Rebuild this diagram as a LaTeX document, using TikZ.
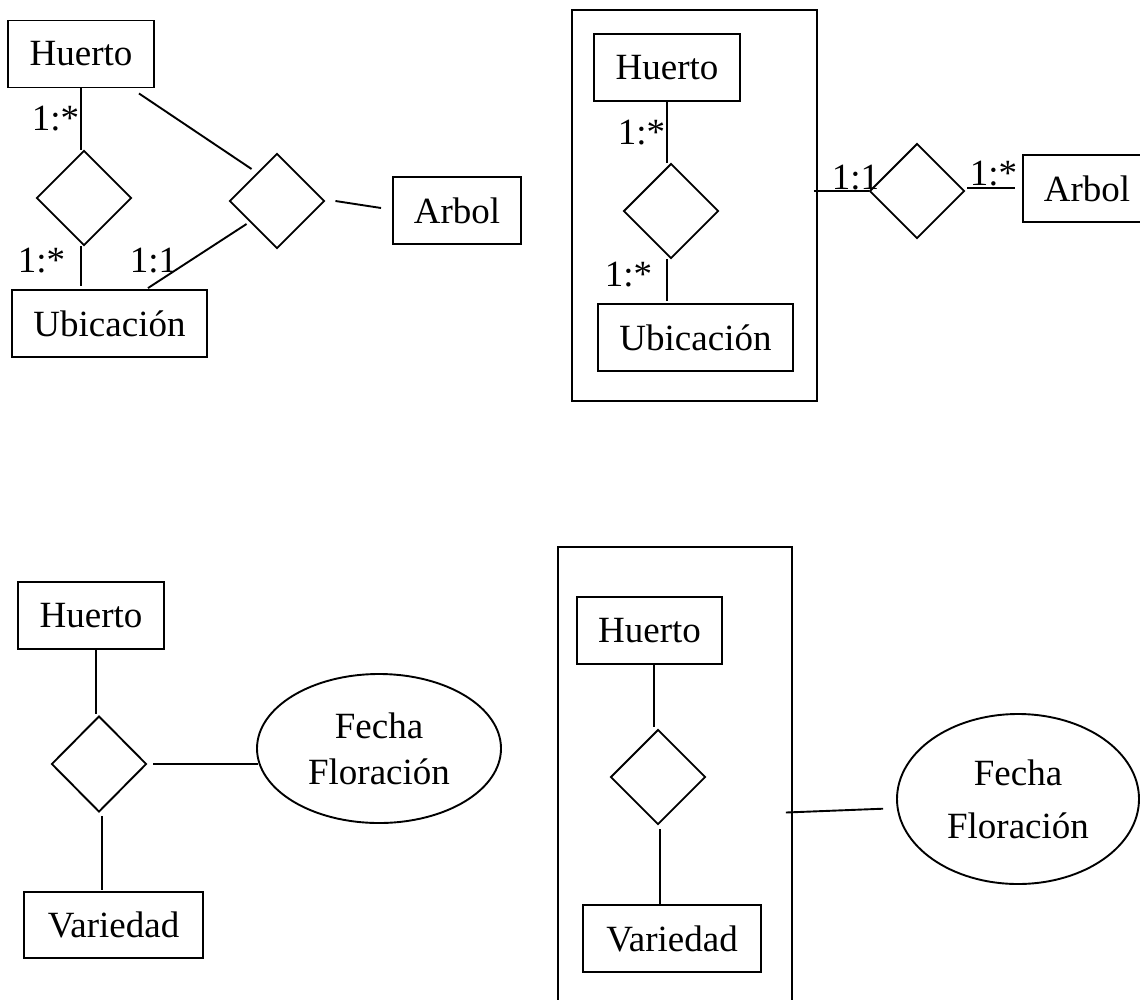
\documentclass[tikz,border=0pt]{standalone}
\usepackage{fontspec}
\setmainfont{Liberation Serif}
\usetikzlibrary{shapes.geometric,calc}

\begin{document}
\begin{tikzpicture}[x=1pt,y=-1pt,
  every node/.style={font=\fontsize{37}{46}\selectfont, inner sep=0pt, line width=1.9pt},
  entity/.style={draw, rectangle, minimum height=67pt},
  rel/.style={draw, diamond, minimum width=95pt, minimum height=95pt},
  attr/.style={draw, ellipse, align=center},
  group/.style={draw, rectangle},
  card/.style={anchor=base west},
  link/.style={line width=1.9pt}
]
\useasboundingbox (0,0) rectangle (1140,999);

% ---------- Huerto / Ubicacion / Arbol (ternary) ----------
\node[entity, minimum width=146pt] (hu1) at (81,54) {Huerto};
\node[rel] (d1) at (84,198) {};
\node[entity, minimum width=195pt] (ub1) at (109.5,323.5) {Ubicación};
\node[rel] (d2) at (277,201) {};
\node[entity, minimum width=128pt] (ar1) at (457,210.5) {Arbol};

\draw[link] (hu1.south) -- (hu1.south |- d1.north);
\draw[link] (d1.south -| hu1.south) -- ($(ub1.north -| hu1.south)+(0,-3)$);
\draw[link] ($(hu1.south east)+(-16,5)$) -- ($(d2.west)+(23,-32)$);
\draw[link] ($(d2.east)+(10,0)$) -- ($(ar1.west)+(-11,-2.5)$);
\draw[link] ($(d2.west)+(18,23)$) -- ($(ub1.north)+(38.5,-1)$);

\node[card] (c1) at (31,130) {1:*};
\node[card] (c2) at (17,272) {1:*};
\node[card] (c3) at (129,272) {1:1};

% ---------- aggregation Huerto-Ubicacion related to Arbol ----------
\node[group, minimum width=245pt, minimum height=391pt] (agg1) at (694.5,205.5) {};
\node[entity, minimum width=146pt] (hu2) at (667,67.5) {Huerto};
\node[rel] (d3) at (671,211) {};
\node[entity, minimum width=195pt] (ub2) at (695.5,337.5) {Ubicación};
\node[rel] (d4) at (917,191) {};
\node[entity, minimum width=128pt] (ar2) at (1087,188.5) {Arbol};

\draw[link] (hu2.south) -- (hu2.south |- d3.north);
\draw[link] (d3.south -| hu2.south) -- ($(ub2.north -| hu2.south)+(0,-2)$);
\draw[link] ($(d4.west -| agg1.east)+(-4,0)$) -- (d4.west);
\draw[link] ($(d4.east)+(2,-3)$) -- ($(ar2.west)+(-7,-0.5)$);

\node[card] (c4) at (617,144) {1:*};
\node[card] (c5) at (604,286) {1:*};
\node[card] (c6) at (831,189) {1:1};
\node[card] (c7) at (969,185) {1:*};

% ---------- Huerto / Variedad with attribute ----------
\node[entity, minimum width=146pt] (hu3) at (91,615.5) {Huerto};
\node[rel, minimum height=96pt] (d5) at (99,764) {};
\node[entity, minimum width=179pt, minimum height=66pt] (va1) at (113.5,925) {Variedad};
\node[attr, minimum width=244pt, minimum height=149pt] (el1) at (379,748.5) {Fecha\\Floración};

\draw[link] ($(hu3.south)+(5,0)$) -- ($(d5.north)+(-3,-1)$);
\draw[link] ($(d5.south)+(3,3)$) -- ($(va1.north)+(-11.5,-1)$);
\draw[link] ($(d5.east)+(6,0)$) -- ($(d5.east -| el1.west)+(2,0)$);

% ---------- aggregation Huerto-Variedad with attribute ----------
\node[group, minimum width=234pt, minimum height=473pt] (agg2) at (675,783.5) {};
\node[entity, minimum width=145pt] (hu4) at (649.5,630.5) {Huerto};
\node[rel] (d6) at (658,777) {};
\node[entity, minimum width=178pt] (va2) at (672,938.5) {Variedad};
\node[attr, minimum width=242pt, minimum height=170pt, font=\fontsize{37}{53}\selectfont] (el2) at (1018,799) {Fecha\\Floración};

\draw[link] ($(hu4.south)+(4.5,0)$) -- ($(d6.north)+(-4,-2)$);
\draw[link] ($(d6.south)+(2,4)$) -- ($(va2.north)+(-12,0)$);
\draw[link] ($(agg2.east)+(-7,29)$) -- ($(el2.west)+(-13,9.7)$);
\end{tikzpicture}
\end{document}
